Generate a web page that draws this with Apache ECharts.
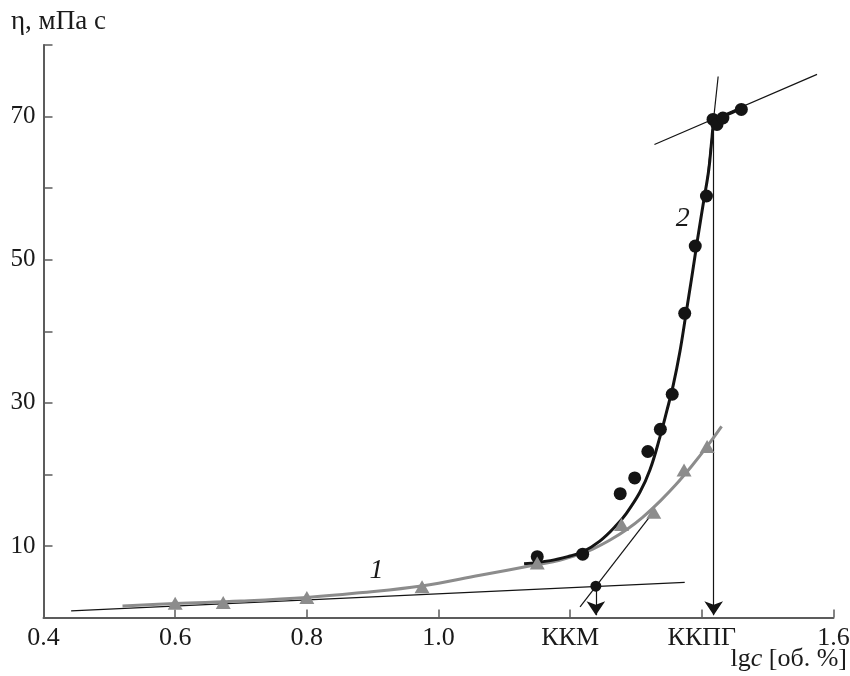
<!DOCTYPE html>
<html><head><meta charset="utf-8">
<script src="https://cdn.jsdelivr.net/npm/echarts@6/dist/echarts.min.js"></script>
<style>html,body{margin:0;padding:0;background:#fff}#c{width:850px;height:676px}</style>
</head><body><div id="c"></div>
<script>
// ---- data ----
const xTicks = [0.4, 0.6, 0.8, 1.0, 1.2, 1.4, 1.6];
const xTickLabels = ['0.4', '0.6', '0.8', '1.0', 'ККМ', 'ККПГ', '1.6'];
const yLabelled = [10, 30, 50, 70];

// series 1 (grey triangles)
const s1X = [0.6, 0.673, 0.8, 0.975, 1.150, 1.278, 1.327, 1.373, 1.408];
const s1Y = [2.0, 2.1, 2.8, 4.3, 7.6, 13.0, 14.7, 20.6, 23.9];
// series 1 fitted curve
const c1X = [0.52, 0.6, 0.7, 0.8, 0.88, 0.974, 1.063, 1.15, 1.184, 1.219, 1.235, 1.26, 1.286, 1.31, 1.337, 1.36, 1.385, 1.408, 1.43];
const c1Y = [1.6, 1.95, 2.3, 2.8, 3.45, 4.4, 5.9, 7.4, 8.0, 9.0, 9.6, 10.8, 12.3, 14.0, 16.3, 18.5, 21.2, 23.9, 26.7];

// series 2 (black dots)
const s2X = [1.150, 1.219, 1.276, 1.298, 1.318, 1.337, 1.355, 1.374, 1.390, 1.407, 1.417, 1.423, 1.432, 1.460];
const s2Y = [8.5, 8.85, 17.3, 19.5, 23.2, 26.3, 31.2, 42.5, 51.9, 58.9, 69.6, 68.9, 69.8, 71.0];
// series 2 fitted curve
const c2X = [1.13, 1.17, 1.2, 1.219, 1.245, 1.2705, 1.2857, 1.3059, 1.3211, 1.3363, 1.3469, 1.3564, 1.3666, 1.3757, 1.3848, 1.3939, 1.403, 1.4106, 1.4152, 1.4182, 1.4243, 1.4395, 1.4592];
const c2Y = [7.5, 7.95, 8.6, 9.17, 10.67, 12.91, 14.6, 17.5, 20.6, 25.2, 28.9, 32.4, 37.1, 42.3, 47.6, 53.1, 58.3, 62.6, 66.8, 69.0, 69.7, 70.3, 71.1];

// construction lines
const tanLowX = [0.442, 1.374], tanLowY = [0.92, 4.9];
const tanSteep1X = [1.215, 1.321], tanSteep1Y = [1.48, 14.1];
const tanSteep2X = [1.4248, 1.406], tanSteep2Y = [75.6, 59.5];
const tanHighX = [1.328, 1.575], tanHighY = [66.1, 75.9];
const cmcX = 1.239, cmcY = 4.38;      // ККМ intersection point
const cmcPgX = 1.418, cmcPgY = 69.5;  // ККПГ point

const curveLabelX = [0.906, 1.371];
const curveLabelY = [6.6, 55.7];
const curveLabelText = ['1', '2'];

// ---- build ----
const zip = (a, b) => a.map((v, i) => [v, b[i]]);
const GREY = '#8c8c8c', BLACK = '#141414', AXIS = '#5c5c5c';
const FONT = '"Liberation Serif", "DejaVu Serif", serif';

function thin(xs, ys) {
  return { type: 'line', data: zip(xs, ys), showSymbol: false, symbol: 'none',
    lineStyle: { color: BLACK, width: 1.2 }, silent: true, z: 3 };
}

const chart = echarts.init(document.getElementById('c'), null, { renderer: 'canvas' });
chart.setOption({
  animation: false,
  backgroundColor: '#fff',
  grid: { left: 43.5, right: 16.5, top: 45, bottom: 58.5, containLabel: false, outerBoundsMode: 'none' },
  xAxis: {
    type: 'value', min: 0.4, max: 1.6, interval: 0.2,
    axisLine: { lineStyle: { color: AXIS, width: 2 } },
    axisTick: { inside: true, length: 8, lineStyle: { color: AXIS, width: 1.5 } },
    splitLine: { show: false },
    axisLabel: {
      margin: 8, color: '#1a1a1a', fontFamily: FONT, fontSize: 26,
      formatter: v => {
        let best = 0;
        xTicks.forEach((t, i) => { if (Math.abs(t - v) < Math.abs(xTicks[best] - v)) best = i; });
        return xTickLabels[best];
      }
    }
  },
  yAxis: {
    type: 'value', min: 0, max: 80, interval: 10,
    axisLine: { lineStyle: { color: AXIS, width: 2 } },
    axisTick: { inside: true, length: 9, lineStyle: { color: AXIS, width: 1.5 } },
    splitLine: { show: false },
    axisLabel: {
      margin: 8, color: '#1a1a1a', fontFamily: FONT, fontSize: 25,
      formatter: v => yLabelled.some(l => Math.abs(l - v) < 1e-6) ? String(Math.round(v)) : ''
    }
  },
  graphic: [
    { type: 'text', left: 11, top: 8, style: { text: 'η, мПа с', font: '27px ' + FONT, fill: '#1a1a1a' } },
    { type: 'text', right: 3, top: 646, style: {
      text: '{n|lg}{i|c}{n| [об. %]}',
      rich: { n: { font: '26px ' + FONT, fill: '#1a1a1a' }, i: { font: 'italic 26px ' + FONT, fill: '#1a1a1a' } }
    } }
  ],
  series: [
    thin(tanLowX, tanLowY),
    thin(tanSteep1X, tanSteep1Y),
    thin(tanSteep2X, tanSteep2Y),
    thin(tanHighX, tanHighY),
    {
      type: 'lines', coordinateSystem: 'cartesian2d', silent: true, z: 3,
      symbol: ['none', 'arrow'], symbolSize: [8, 14],
      lineStyle: { color: BLACK, width: 1.2, opacity: 1 },
      data: [
        { coords: [[cmcX, cmcY], [cmcX, 0.3]] },
        { coords: [[cmcPgX, cmcPgY], [cmcPgX, 0.3]] }
      ]
    },
    { type: 'line', data: zip(c1X, c1Y), smooth: 0.4, showSymbol: false, symbol: 'none',
      lineStyle: { color: GREY, width: 3 }, z: 4 },
    { type: 'line', data: zip(c2X, c2Y), smooth: 0.4, showSymbol: false, symbol: 'none',
      lineStyle: { color: BLACK, width: 3 }, z: 5 },
    { type: 'scatter', data: zip(s2X, s2Y), symbol: 'circle', symbolSize: 13,
      itemStyle: { color: BLACK, opacity: 1 }, z: 6 },
    { type: 'scatter', data: zip(s1X, s1Y), symbol: 'triangle', symbolSize: [15, 13],
      itemStyle: { color: GREY, opacity: 1 }, z: 7 },
    { type: 'scatter', data: [[cmcX, cmcY]], symbol: 'circle', symbolSize: 11,
      itemStyle: { color: BLACK, opacity: 1 }, z: 8 },
    { type: 'scatter', symbolSize: 0, z: 9, itemStyle: { opacity: 1 },
      data: curveLabelX.map((x, i) => ({ value: [x, curveLabelY[i]], name: curveLabelText[i] })),
      label: { show: true, position: 'inside', formatter: p => p.name,
        fontFamily: FONT, fontStyle: 'italic', fontSize: 28, color: '#1a1a1a' } }
  ]
});
</script></body></html>
